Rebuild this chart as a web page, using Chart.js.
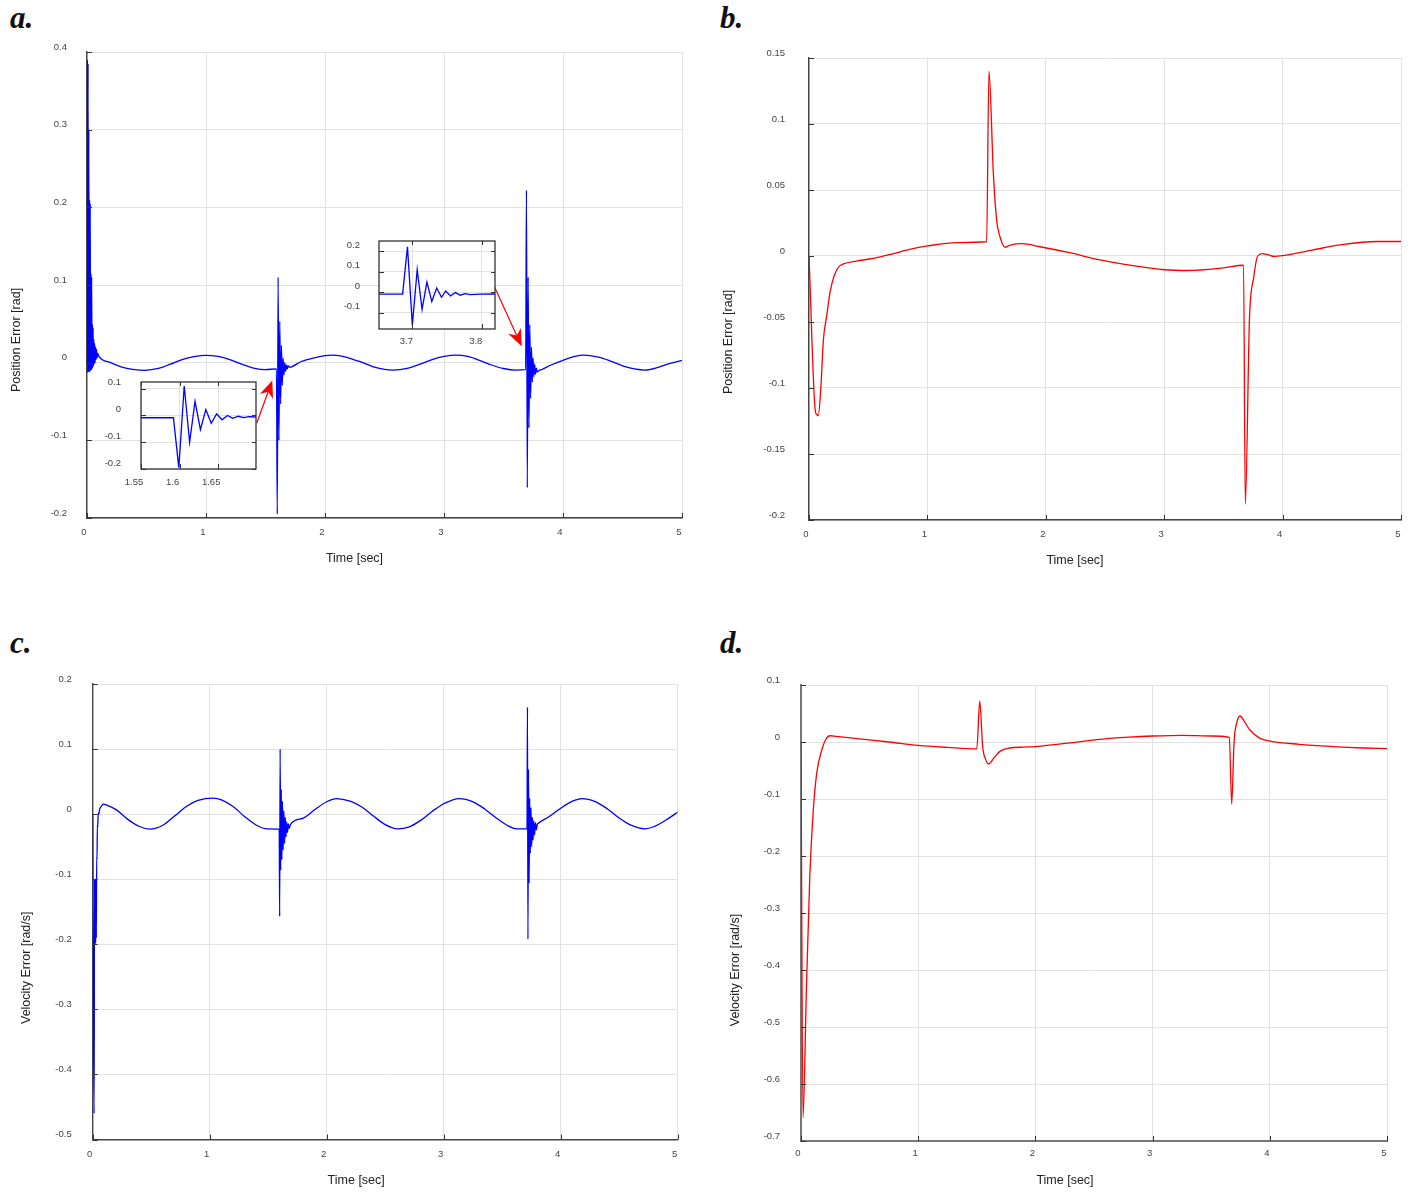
<!DOCTYPE html>
<html>
<head>
<meta charset="utf-8">
<script src="https://cdn.jsdelivr.net/npm/chart.js@4.4.1/dist/chart.umd.min.js"></script>
<style>
  body { margin: 0; background: #fff; width: 1413px; height: 1192px; position: relative; overflow: hidden; }
  canvas { position: absolute; }
  .tag { position: absolute; font: bold italic 31px "Liberation Serif", "DejaVu Serif", serif; line-height: 31px; color: #111; }
</style>
</head>
<body>
<div class="tag" style="left:10px;top:2px">a.</div>
<div class="tag" style="left:720px;top:2px">b.</div>
<div class="tag" style="left:10px;top:627px">c.</div>
<div class="tag" style="left:720px;top:627px">d.</div>

<canvas id="chartA" width="700" height="580" style="left:0;top:0"></canvas>
<canvas id="chartB" width="693" height="580" style="left:720px;top:0"></canvas>
<canvas id="chartC" width="700" height="572" style="left:0;top:620px"></canvas>
<canvas id="chartD" width="693" height="572" style="left:720px;top:620px"></canvas>
<canvas id="zoom1" width="180" height="155" style="left:90px;top:345px"></canvas>
<canvas id="zoom2" width="185" height="150" style="left:325px;top:205px"></canvas>

<script>
// tick values
const timeTicks = [0, 1, 2, 3, 4, 5];
const posTicksA = [-0.2, -0.1, 0, 0.1, 0.2, 0.3, 0.4];
const posTicksB = [-0.2, -0.15, -0.1, -0.05, 0, 0.05, 0.1, 0.15];
const velTicksC = [-0.5, -0.4, -0.3, -0.2, -0.1, 0, 0.1, 0.2];
const velTicksD = [-0.7, -0.6, -0.5, -0.4, -0.3, -0.2, -0.1, 0, 0.1];
const zoom1TicksX = [1.55, 1.6, 1.65];
const zoom1TicksY = [-0.2, -0.1, 0, 0.1];
const zoom2TicksX = [3.7, 3.8];
const zoom2TicksY = [-0.1, 0, 0.1, 0.2];

// a. position error (blue), [time, error]
const posErrA = [
  [0, 0], [0.003, 0.39], [0.006, -0.013], [0.009, 0.385], [0.012, -0.012], [0.015, 0.3],
  [0.018, -0.012], [0.021, 0.21], [0.024, -0.012], [0.027, 0.205], [0.03, -0.01], [0.033, 0.115],
  [0.036, -0.01], [0.039, 0.11], [0.042, -0.008], [0.045, 0.05], [0.048, -0.006], [0.051, 0.045],
  [0.054, -0.004], [0.057, 0.03], [0.06, -0.002], [0.064, 0.025], [0.068, 0.0], [0.072, 0.02],
  [0.076, 0.004], [0.08, 0.017], [0.085, 0.006], [0.09, 0.012], [0.1, 0.008],
  [0.2, 0.0], [0.3, -0.006], [0.4, -0.009], [0.49, -0.0098], [0.6, -0.0075], [0.7, -0.002],
  [0.8, 0.004], [0.9, 0.0078], [1.0, 0.0095], [1.1, 0.008], [1.2, 0.004], [1.3, -0.002],
  [1.4, -0.007], [1.5, -0.009], [1.592, -0.008],
  [1.599, -0.195], [1.606, 0.11], [1.613, -0.1], [1.62, 0.053], [1.627, -0.053], [1.634, 0.022],
  [1.641, -0.029], [1.648, 0.006], [1.655, -0.016], [1.662, 0.0], [1.669, -0.011], [1.676, -0.003],
  [1.683, -0.008], [1.69, -0.004], [1.7, -0.006],
  [1.8, 0.0015], [1.9, 0.006], [2.0, 0.009], [2.07, 0.0097], [2.2, 0.006], [2.3, 0.001],
  [2.4, -0.005], [2.5, -0.0085], [2.57, -0.0095], [2.7, -0.007], [2.8, -0.002], [2.9, 0.004],
  [3.0, 0.008], [3.1, 0.0097], [3.2, 0.008], [3.3, 0.003], [3.4, -0.003], [3.5, -0.0075],
  [3.6, -0.0095], [3.686, -0.009],
  [3.693, 0.222], [3.7, -0.161], [3.707, 0.11], [3.714, -0.084], [3.721, 0.049], [3.728, -0.046],
  [3.735, 0.02], [3.742, -0.025], [3.748, 0.006], [3.755, -0.018], [3.762, -0.002], [3.769, -0.015],
  [3.776, -0.007], [3.783, -0.012], [3.8, -0.01], [3.82, -0.009],
  [3.9, -0.003], [4.0, 0.003], [4.1, 0.008], [4.17, 0.0098], [4.3, 0.007], [4.4, 0.002],
  [4.5, -0.004], [4.6, -0.008], [4.69, -0.0095], [4.8, -0.006], [4.9, -0.001], [5.0, 0.003]
];

// b. position error (red)
const posErrB = [
  [0, 0], [0.054, -0.118], [0.065, -0.12], [0.078, -0.121], [0.1, -0.1], [0.121, -0.064],
  [0.15, -0.045], [0.177, -0.028], [0.205, -0.017], [0.234, -0.0106], [0.26, -0.0075], [0.29, -0.006],
  [0.4, -0.0038], [0.543, -0.0018], [0.7, 0.0015], [0.825, 0.0045], [1.0, 0.0076], [1.25, 0.0102],
  [1.5, 0.0108], [1.52, 0.14], [1.557, 0.0626], [1.585, 0.027], [1.613, 0.0146], [1.655, 0.0066],
  [1.7, 0.0083], [1.8, 0.0093], [1.95, 0.007], [2.2, 0.0025], [2.46, -0.003], [2.75, -0.0075],
  [3.0, -0.0104], [3.2, -0.011], [3.5, -0.009], [3.67, -0.007], [3.685, -0.188], [3.72, -0.048],
  [3.755, -0.0167], [3.79, 0], [3.83, 0.0018], [3.88, 0.0008], [3.93, -0.0003], [4.0, 0.0003],
  [4.25, 0.0045], [4.5, 0.0086], [4.8, 0.011], [5.0, 0.011]
];

// c. velocity error (blue)
const velErrC = [
  [0, 0], [0.006, -0.3], [0.012, -0.46], [0.016, -0.1], [0.019, -0.2], [0.022, -0.1],
  [0.025, -0.198], [0.028, -0.1], [0.031, -0.19], [0.034, -0.065], [0.037, -0.07], [0.04, -0.016],
  [0.043, -0.02], [0.047, 0.002], [0.052, 0.0], [0.06, 0.008], [0.07, 0.011], [0.09, 0.0155],
  [0.12, 0.014], [0.2, 0.007], [0.3, -0.008], [0.4, -0.019], [0.49, -0.023], [0.6, -0.017],
  [0.7, -0.003], [0.8, 0.0117], [0.9, 0.021], [1.03, 0.0246], [1.1, 0.022], [1.2, 0.0117],
  [1.3, -0.004], [1.4, -0.017], [1.49, -0.0225], [1.594, -0.023],
  [1.598, -0.157], [1.602, 0.1], [1.607, -0.086], [1.612, 0.038], [1.617, -0.07], [1.622, 0.02],
  [1.628, -0.055], [1.634, 0.005], [1.64, -0.045], [1.646, -0.005], [1.652, -0.035], [1.658, -0.012],
  [1.665, -0.028], [1.672, -0.015], [1.68, -0.022], [1.69, -0.016],
  [1.8, -0.006], [1.9, 0.007], [2.0, 0.019], [2.085, 0.024], [2.2, 0.02], [2.3, 0.011],
  [2.4, -0.003], [2.5, -0.016], [2.61, -0.0226], [2.7, -0.02], [2.8, -0.01], [2.9, 0.004],
  [3.0, 0.016], [3.133, 0.024], [3.25, 0.019], [3.35, 0.008], [3.45, -0.006], [3.55, -0.018],
  [3.62, -0.0225], [3.712, -0.0225],
  [3.716, 0.1646], [3.72, -0.192], [3.725, 0.069], [3.73, -0.106], [3.735, 0.0246], [3.74, -0.06],
  [3.746, 0.01], [3.752, -0.05], [3.758, -0.005], [3.764, -0.04], [3.77, -0.01], [3.777, -0.032],
  [3.784, -0.013], [3.792, -0.024], [3.8, -0.016], [3.81, -0.014],
  [3.9, -0.004], [4.0, 0.009], [4.1, 0.02], [4.18, 0.024], [4.3, 0.019], [4.4, 0.008],
  [4.5, -0.006], [4.6, -0.017], [4.72, -0.0226], [4.8, -0.019], [4.9, -0.009], [5.0, 0.003]
];

// d. velocity error (red)
const velErrD = [
  [0, 0], [0.017, -0.659], [0.046, -0.435], [0.075, -0.236], [0.105, -0.119], [0.134, -0.055],
  [0.177, -0.014], [0.21, 0.004], [0.248, 0.011], [0.3, 0.01], [0.5, 0.0055], [0.75, 0.0],
  [1.0, -0.006], [1.25, -0.0095], [1.5, -0.012], [1.525, 0.072], [1.55, -0.008], [1.575, -0.03],
  [1.6, -0.0386], [1.65, -0.027], [1.7, -0.016], [1.78, -0.0105], [1.9, -0.009], [2.0, -0.008],
  [2.3, -0.0015], [2.55, 0.0047], [2.8, 0.0085], [3.0, 0.0105], [3.26, 0.0117], [3.5, 0.0105],
  [3.655, 0.008], [3.675, -0.109], [3.695, 0.0], [3.72, 0.035], [3.746, 0.0456], [3.78, 0.037],
  [3.83, 0.021], [3.917, 0.0064], [4.0, 0.0017], [4.25, -0.004], [4.54, -0.008], [4.8, -0.0105],
  [5.0, -0.0117]
];

// red arrows from the zoom boxes to the spikes (data coords of chart a)
const arrowLinks = [
  [[1.426, -0.078], [1.557, -0.023]],
  [[3.423, 0.098], [3.653, 0.021]]
];

Chart.defaults.font.family = '"Liberation Sans", Arial, sans-serif';

const fmt = v => String(+(+v).toFixed(3));

// frame: inside ticks, optional box, axis titles, arrows
const frame = {
  id: 'frame',
  beforeDraw(chart, args, o) {
    if (!o.box) return;
    const a = chart.chartArea, ctx = chart.ctx;
    ctx.save();
    ctx.fillStyle = '#fff';
    ctx.fillRect(a.left, a.top, a.right - a.left, a.bottom - a.top);
    ctx.restore();
  },
  afterDraw(chart, args, o) {
    const {ctx, chartArea: a, scales: {x, y}} = chart;
    ctx.save();
    ctx.strokeStyle = '#333';
    ctx.lineWidth = 1;
    ctx.beginPath();
    x.ticks.forEach(t => {
      const px = Math.round(x.getPixelForValue(t.value)) + 0.5;
      ctx.moveTo(px, a.bottom); ctx.lineTo(px, a.bottom - 5);
      if (o.box) { ctx.moveTo(px, a.top); ctx.lineTo(px, a.top + 4); }
    });
    y.ticks.forEach(t => {
      const py = Math.round(y.getPixelForValue(t.value)) + 0.5;
      ctx.moveTo(a.left, py); ctx.lineTo(a.left + 5, py);
      if (o.box) { ctx.moveTo(a.right, py); ctx.lineTo(a.right - 4, py); }
    });
    ctx.stroke();
    if (o.box) {
      ctx.lineWidth = 1.3;
      ctx.strokeRect(a.left, a.top, a.right - a.left, a.bottom - a.top);
    }
    if (o.xTitle) {
      ctx.fillStyle = '#222';
      ctx.font = '12.5px "Liberation Sans", Arial, sans-serif';
      ctx.textAlign = 'center';
      ctx.textBaseline = 'middle';
      ctx.fillText(o.xTitle, (a.left + a.right) / 2 + o.xd[0], a.bottom + o.xd[1]);
      ctx.translate(a.left + o.yd[0], (a.top + a.bottom) / 2 + o.yd[1]);
      ctx.rotate(-Math.PI / 2);
      ctx.fillText(o.yTitle, 0, 0);
    }
    ctx.restore();
    if (o.arrows) {
      ctx.save();
      ctx.strokeStyle = '#f00';
      ctx.fillStyle = '#f00';
      ctx.lineWidth = 1.2;
      o.arrows.forEach(([p0, p1]) => {
        const x0 = x.getPixelForValue(p0[0]), y0 = y.getPixelForValue(p0[1]);
        const x1 = x.getPixelForValue(p1[0]), y1 = y.getPixelForValue(p1[1]);
        const ang = Math.atan2(y1 - y0, x1 - x0);
        const L = 17, W = 7, N = 5;
        const c = Math.cos(ang), s = Math.sin(ang);
        ctx.beginPath();
        ctx.moveTo(x0, y0);
        ctx.lineTo(x1 - c * (L - N), y1 - s * (L - N));
        ctx.stroke();
        ctx.beginPath();
        ctx.moveTo(x1, y1);
        ctx.lineTo(x1 - c * L - s * W, y1 - s * L + c * W);
        ctx.lineTo(x1 - c * (L - N), y1 - s * (L - N));
        ctx.lineTo(x1 - c * L + s * W, y1 - s * L - c * W);
        ctx.closePath();
        ctx.fill();
      });
      ctx.restore();
    }
  }
};

function makeChart(id, cfg) {
  const axisCol = cfg.axisColor || '#444';
  return new Chart(document.getElementById(id), {
    type: 'line',
    data: {
      datasets: [{
        data: cfg.points.map(([x, y]) => ({x, y})),
        borderColor: cfg.color,
        borderWidth: 1.3,
        pointRadius: 0,
        tension: 0,
        cubicInterpolationMode: cfg.straight ? 'default' : 'monotone',
        fill: false
      }]
    },
    plugins: [frame],
    options: {
      responsive: false,
      animation: false,
      events: [],
      layout: { padding: cfg.pad },
      plugins: {
        legend: { display: false },
        tooltip: { enabled: false },
        frame: cfg.frame
      },
      scales: {
        x: {
          type: 'linear', bounds: 'data', min: cfg.xRange[0], max: cfg.xRange[1],
          afterBuildTicks: s => { s.ticks = cfg.xTicks.map(v => ({value: v})); },
          afterFit: s => { s.height = cfg.xH; },
          grid: { color: '#e2e2e2', lineWidth: 1, drawTicks: false },
          border: { display: !cfg.frame.box, color: axisCol, width: cfg.axisWidth || 1.4 },
          ticks: { autoSkip: false, maxRotation: 0, padding: cfg.xPad, labelOffset: cfg.xOff,
                   color: '#444', font: { size: 9.5 }, callback: fmt }
        },
        y: {
          type: 'linear', bounds: 'data', min: cfg.yRange[0], max: cfg.yRange[1],
          afterBuildTicks: s => { s.ticks = cfg.yTicks.map(v => ({value: v})); },
          afterFit: s => { s.width = cfg.yW; },
          grid: { color: '#e2e2e2', lineWidth: 1, drawTicks: false },
          border: { display: !cfg.frame.box, color: axisCol, width: cfg.axisWidth || 1.4 },
          ticks: { autoSkip: false, padding: cfg.yPad, labelOffset: cfg.yOff,
                   color: '#444', font: { size: 9.5 }, callback: fmt }
        }
      }
    }
  });
}

makeChart('chartA', {
  points: posErrA, color: '#0000ff',
  xRange: [0, 5], yRange: [-0.2, 0.4], xTicks: timeTicks, yTicks: posTicksA,
  pad: { left: 0, top: 52, right: 18, bottom: 12 }, xH: 50, yW: 87,
  xPad: 9, xOff: -3, yPad: 20, yOff: -5,
  frame: { xTitle: 'Time [sec]', yTitle: 'Position Error [rad]', xd: [-30, 41], yd: [-70, 55], arrows: arrowLinks }
});

makeChart('chartB', {
  points: posErrB, color: '#ff0000',
  xRange: [0, 5], yRange: [-0.2, 0.15], xTicks: timeTicks, yTicks: posTicksB,
  pad: { left: 0, top: 58, right: 12, bottom: 10 }, xH: 50, yW: 89,
  xPad: 9, xOff: -3, yPad: 24, yOff: -5,
  frame: { xTitle: 'Time [sec]', yTitle: 'Position Error [rad]', xd: [-30, 41], yd: [-80, 53] }
});

makeChart('chartC', {
  points: velErrC, color: '#0000ff',
  xRange: [0, 5], yRange: [-0.5, 0.2], xTicks: timeTicks, yTicks: velTicksC,
  pad: { left: 0, top: 64, right: 22.3, bottom: 12.5 }, xH: 40, yW: 92.7,
  xPad: 9, xOff: -3, yPad: 21, yOff: -5,
  frame: { xTitle: 'Time [sec]', yTitle: 'Velocity Error [rad/s]', xd: [-29, 41.5], yd: [-66, 56] }
});

makeChart('chartD', {
  points: velErrD, color: '#ff0000', axisColor: '#777', axisWidth: 2,
  xRange: [0, 5], yRange: [-0.7, 0.1], xTicks: timeTicks, yTicks: velTicksD,
  pad: { left: 0, top: 65, right: 26, bottom: 11 }, xH: 40, yW: 81,
  xPad: 7, xOff: -3, yPad: 21, yOff: -5,
  frame: { xTitle: 'Time [sec]', yTitle: 'Velocity Error [rad/s]', xd: [-29, 40], yd: [-65, 57] }
});

makeChart('zoom1', {
  points: posErrA, color: '#0000ff', straight: true,
  xRange: [1.55, 1.699], yRange: [-0.2, 0.125], xTicks: zoom1TicksX, yTicks: zoom1TicksY,
  pad: { left: 0, top: 37, right: 14, bottom: 6 }, xH: 25, yW: 51,
  xPad: 8, xOff: -7, yPad: 20, yOff: -6,
  frame: { box: true }
});

makeChart('zoom2', {
  points: posErrA, color: '#0000ff', straight: true,
  xRange: [3.652, 3.819], yRange: [-0.18, 0.25], xTicks: zoom2TicksX, yTicks: zoom2TicksY,
  pad: { left: 0, top: 36, right: 15, bottom: 6 }, xH: 20, yW: 54,
  xPad: 7, xOff: -6, yPad: 19, yOff: -6,
  frame: { box: true }
});
</script>
</body>
</html>
